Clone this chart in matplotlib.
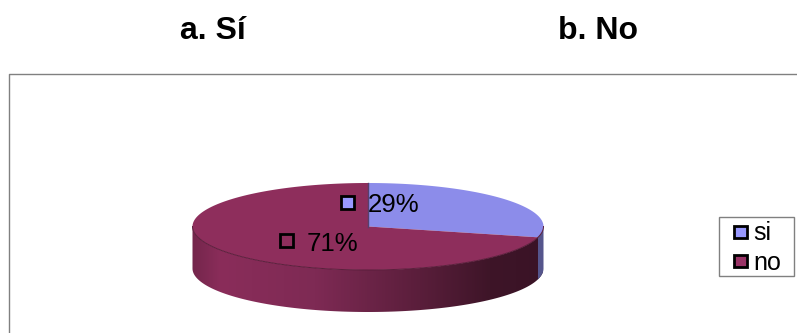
import numpy as np
import matplotlib
matplotlib.use("Agg")
import matplotlib.pyplot as plt
from matplotlib.colors import LinearSegmentedColormap
from matplotlib.patches import Polygon, Rectangle

plt.rcParams["font.family"] = ["Liberation Sans", "DejaVu Sans"]

categories = ["si", "no"]
shares = [29, 71]
pct_labels = ["29%", "71%"]
headings = ["a. Sí", "b. No"]

C_TOP = ["#8C8CEA", "#8E2E5C"]
C_KEY = ["#9999FF", "#993366"]

# pie geometry in pixels
CX, CY = 368, 226.5
RX, RY = 175.5, 43.5
DEPTH = 42


def rim(a0, a1, n=200, drop=0):
    t = np.radians(np.linspace(a0, a1, n))
    return np.column_stack([CX + RX * np.cos(t), CY - RY * np.sin(t) + drop])


fig = plt.figure(figsize=(7.97, 3.33), dpi=100)
ax = fig.add_axes([0, 0, 1, 1])
ax.set_xlim(0, 797)
ax.set_ylim(333, 0)
ax.axis("off")

# outer chart frame, runs off the right and bottom
ax.plot([797, 9.5, 9.5], [74, 74, 333], color="#808080", lw=1.0)

ax.text(213, 31, headings[0], fontsize=23, fontweight="bold", ha="center", va="center")
ax.text(598, 31, headings[1], fontsize=23, fontweight="bold", ha="center", va="center")

# slice angles go clockwise from 12 o'clock
bounds = 90 - np.cumsum([0] + shares) * 3.6

# side wall with shading from left to right
side = np.vstack([rim(180, 360), rim(360, 180, drop=DEPTH)])
clip = Polygon(side, closed=True, transform=ax.transData, fc="none", ec="none")
ax.add_patch(clip)
shade = LinearSegmentedColormap.from_list(
    "side", [(0, "#74264C"), (0.08, "#8A2D5A"), (0.35, "#7E2A54"), (0.65, "#5A1E3B"),
             (0.85, "#3E1528"), (1, "#3A1326")])
im = ax.imshow(np.linspace(0, 1, 256)[None, :], cmap=shade, aspect="auto",
               extent=[CX - RX, CX + RX, CY + RY + DEPTH, CY - RY], zorder=2)
im.set_clip_path(clip)
ax.set_xlim(0, 797)
ax.set_ylim(333, 0)

# the part of the first slice that shows on the wall
wall = np.vstack([rim(bounds[1], 0, 30), rim(0, bounds[1], 30, drop=DEPTH)])
ax.add_patch(Polygon(wall, closed=True, fc="#55558C", ec="none", zorder=3))

# top faces
for i in range(len(shares)):
    face = np.vstack([[CX, CY], rim(bounds[i], bounds[i + 1])])
    ax.add_patch(Polygon(face, closed=True, fc=C_TOP[i], ec="none", zorder=4))
ax.plot(*rim(180, 360).T, color="#5A1E3B", lw=0.7, zorder=5)
ax.plot([CX, CX], [CY, CY - RY], color="#55406E", lw=1.0, zorder=5)

# label keys and percentages
ax.add_patch(Rectangle((341, 195.5), 13, 13, fc=C_KEY[0], ec="black", lw=2.0, zorder=6))
ax.add_patch(Rectangle((280.5, 233.5), 13, 13, fc=C_TOP[1], ec="black", lw=2.0, zorder=6))
ax.text(368, 205, pct_labels[0], fontsize=18.6, va="center", ha="left", zorder=7)
ax.text(307, 244, pct_labels[1], fontsize=18.6, va="center", ha="left", zorder=7)

# legend box
ax.add_patch(Rectangle((719, 217), 75, 59, fc="white", ec="#808080", lw=1.0, zorder=6))
for name, col, y in zip(categories, C_KEY, [232, 261]):
    ax.add_patch(Rectangle((734.5, y - 6.5), 12.5, 12.5, fc=col, ec="black", lw=2.0, zorder=7))
    ax.text(753, y + 1.5, name, fontsize=18, va="center", ha="left", zorder=7)

fig.savefig("out.png", dpi=100)
